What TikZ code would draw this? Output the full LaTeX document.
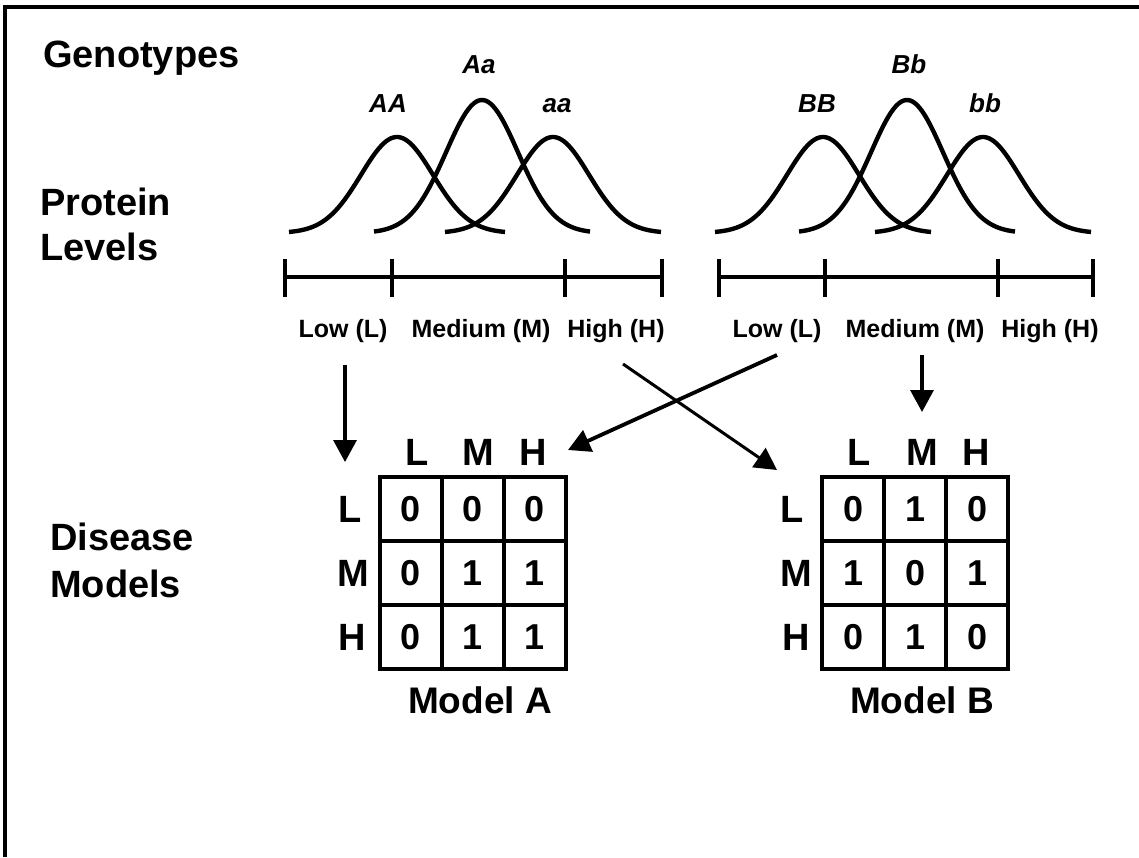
\documentclass[tikz,border=0pt]{standalone}
\usepackage{fontspec}
\setmainfont{Liberation Sans}
\usetikzlibrary{arrows.meta}

\begin{document}
\begin{tikzpicture}[x=1pt,y=-1pt,
  rowlbl/.style={font=\bfseries\fontsize{38}{45}\selectfont, inner sep=0pt, align=left, anchor=north west},
  geno/.style={font=\bfseries\itshape\fontsize{26}{30}\selectfont, inner sep=0pt, anchor=base},
  level/.style={font=\bfseries\fontsize{25}{30}\selectfont, inner sep=0pt, anchor=base},
  bell/.style={line width=4.4pt},
  scale axis/.style={line width=4.6pt},
  hdr/.style={font=\bfseries\fontsize{38}{45}\selectfont, inner sep=0pt, anchor=base},
  cell/.style={draw, line width=4.8pt, minimum width=62pt, minimum height=64pt,
               inner sep=0pt, font=\bfseries\fontsize{36}{40}\selectfont},
  conn/.style={line width=3.5pt, -{Triangle[length=22pt,width=23pt]}},
  model/.style={font=\bfseries\fontsize{37}{44}\selectfont, inner sep=0pt, anchor=base},
]
\useasboundingbox (0,0) rectangle (1139,857);
\fill[white] (0,0) rectangle (1139,857);

% frame
\draw[line width=3.2pt] (5,857) -- (5,7) -- (1139,7);

% row labels
\node[rowlbl] (genotypes) at (43,41) {Genotypes};
\node[rowlbl] (protein) at (40,188) {Protein\\Levels};
\node[rowlbl, font=\bfseries\fontsize{38}{47}\selectfont] (disease) at (50,523) {Disease\\Models};

% bell curves for gene A
\foreach \c/\h in {397/96, 482/133, 553/96}
  \draw[bell] plot[domain=-108:108, samples=90, smooth]
    ({\c+\x}, {233 - \h*exp(-(\x*\x)/2592)});
% bell curves for gene B
\foreach \c/\h in {823/96, 907/133, 983/96}
  \draw[bell] plot[domain=-108:108, samples=90, smooth]
    ({\c+\x}, {233 - \h*exp(-(\x*\x)/2592)});

% genotype labels
\node[geno] (AA) at (388,112) {AA};
\node[geno] (Aa) at (479,73) {Aa};
\node[geno] (aa) at (557,112) {aa};
\node[geno] (BB) at (817,112) {BB};
\node[geno] (Bb) at (909,73) {Bb};
\node[geno] (bb) at (985,112) {bb};

% protein level scales
\draw[scale axis] (285,277) -- (662,277);
\foreach \t in {285,392,565,662} \draw[scale axis] (\t,259) -- (\t,297);
\draw[scale axis] (719,277) -- (1093,277);
\foreach \t in {719,825,998,1093} \draw[scale axis] (\t,259) -- (\t,297);

\node[level] (lowA) at (343,337) {Low (L)};
\node[level] (medA) at (481,337) {Medium (M)};
\node[level] (highA) at (616,337) {High (H)};
\node[level] (lowB) at (777,337) {Low (L)};
\node[level] (medB) at (915,337) {Medium (M)};
\node[level] (highB) at (1050,337) {High (H)};

% Model A grid
\node[hdr] (cAL) at (417,465) {L};
\node[hdr] (cAM) at (478,465) {M};
\node[hdr] (cAH) at (533,465) {H};
\node[hdr, anchor=base west] (rAL) at (338,522) {L};
\node[hdr, anchor=base west] (rAM) at (337,586) {M};
\node[hdr, anchor=base west] (rAH) at (338,650) {H};
\node[cell] (a11) at (411,509) {0};
\node[cell] (a12) at (473,509) {0};
\node[cell] (a13) at (535,509) {0};
\node[cell] (a21) at (411,573) {0};
\node[cell] (a22) at (473,573) {1};
\node[cell] (a23) at (535,573) {1};
\node[cell] (a31) at (411,637) {0};
\node[cell] (a32) at (473,637) {1};
\node[cell] (a33) at (535,637) {1};
\node[model] (modelA) at (480,713) {Model A};

% Model B grid
\node[hdr] (cBL) at (859,465) {L};
\node[hdr] (cBM) at (922,465) {M};
\node[hdr] (cBH) at (976,465) {H};
\node[hdr, anchor=base west] (rBL) at (780,522) {L};
\node[hdr, anchor=base west] (rBM) at (780,586) {M};
\node[hdr, anchor=base west] (rBH) at (782,650) {H};
\node[cell] (b11) at (853,509) {0};
\node[cell] (b12) at (915,509) {1};
\node[cell] (b13) at (977,509) {0};
\node[cell] (b21) at (853,573) {1};
\node[cell] (b22) at (915,573) {0};
\node[cell] (b23) at (977,573) {1};
\node[cell] (b31) at (853,637) {0};
\node[cell] (b32) at (915,637) {1};
\node[cell] (b33) at (977,637) {0};
\node[model] (modelB) at (922,713) {Model B};

% connectors from protein levels to the models
\coordinate (lowAout) at (345,365);
\coordinate (modelAin) at (345,462);
\coordinate (lowBout) at (777,355);
\coordinate (modelAhin) at (568,450);
\coordinate (highAout) at (623,364);
\coordinate (modelBin) at (777,470);
\coordinate (medBout) at (922,355);
\coordinate (modelBmin) at (922,412);

\draw[conn, line width=3.3pt] (lowAout) -- (modelAin);
\draw[conn, line width=3.8pt] (lowBout) -- (modelAhin);
\draw[conn, line width=3pt] (highAout) -- (modelBin);
\draw[conn, line width=3.3pt] (medBout) -- (modelBmin);
\end{tikzpicture}
\end{document}
